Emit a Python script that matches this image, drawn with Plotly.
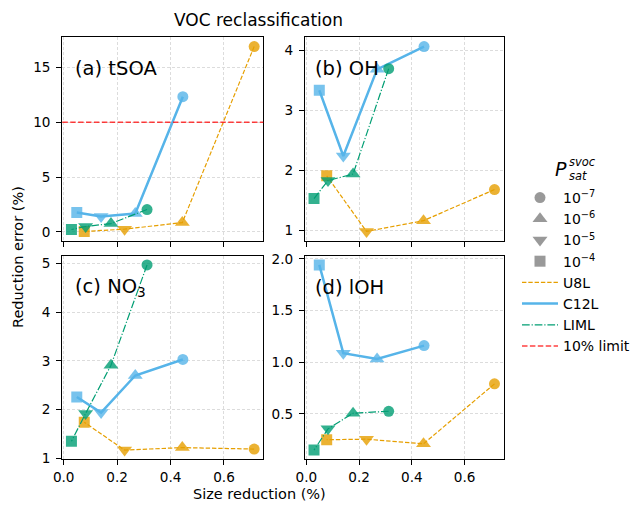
import plotly.graph_objects as go

W, H = 636, 505
FONT = "DejaVu Sans"

# Saturation vapour pressure classes, in plotting order
psat_labels = ["10<sup>−7</sup>", "10<sup>−6</sup>", "10<sup>−5</sup>", "10<sup>−4</sup>"]
psat_symbols = ["circle", "triangle-up", "triangle-down", "square"]
psat_sizes = [11, 13, 13, 11]

# Size reduction (fraction) per mechanism, one value per P_sat class
size_u8l = [0.713, 0.444, 0.228, 0.077]
size_c12l = [0.446, 0.268, 0.140, 0.049]
size_liml = [0.312, 0.177, 0.082, 0.029]

# Reduction error (%) per panel and mechanism
tsoa_u8l = [16.9, 0.85, 0.25, 0.04]
tsoa_c12l = [12.33, 1.67, 1.40, 1.76]
tsoa_liml = [2.04, 0.76, 0.49, 0.22]

oh_u8l = [1.68, 1.16, 0.98, 1.91]
oh_c12l = [4.07, 3.69, 2.24, 3.34]
oh_liml = [3.70, 1.94, 1.83, 1.53]

no3_u8l = [1.19, 1.22, 1.17, 1.74]
no3_c12l = [3.03, 2.70, 1.94, 2.26]
no3_liml = [4.97, 2.91, 1.92, 1.35]

loh_u8l = [0.79, 0.21, 0.255, 0.25]
loh_c12l = [1.16, 1.03, 1.087, 1.94]
loh_liml = [0.525, 0.506, 0.355, 0.15]

limit_pct = 10

panel_titles = ["(a) tSOA", "(b) OH", "(c) NO<sub>3</sub>", "(d) lOH"]
x_ticks = [0.0, 0.2, 0.4, 0.6]
y_ticks = [[0, 5, 10, 15], [1, 2, 3, 4], [1, 2, 3, 4, 5], [0.5, 1.0, 1.5, 2.0]]

mechs = ["U8L", "C12L", "LIML"]
colors = {"U8L": "#E69F00", "C12L": "#56B4E9", "LIML": "#009E73"}
line_styles = {
    "U8L": dict(width=1.2, dash="4.4px,1.9px"),
    "C12L": dict(width=2.5, dash="solid"),
    "LIML": dict(width=1.2, dash="7.7px,1.9px,1.2px,1.9px"),
}
sizes = {"U8L": size_u8l, "C12L": size_c12l, "LIML": size_liml}
panels = [
    {"U8L": tsoa_u8l, "C12L": tsoa_c12l, "LIML": tsoa_liml},
    {"U8L": oh_u8l, "C12L": oh_c12l, "LIML": oh_liml},
    {"U8L": no3_u8l, "C12L": no3_c12l, "LIML": no3_liml},
    {"U8L": loh_u8l, "C12L": loh_c12l, "LIML": loh_liml},
]


def px_x(p):
    return p / W


def px_y(p):
    return 1 - p / H


# panel boxes in pixels: (left, right, top, bottom)
boxes = [
    (62.3, 263.3, 37.3, 240.7),
    (305.0, 503.5, 37.3, 240.7),
    (62.3, 263.3, 255.7, 459.3),
    (305.0, 503.5, 255.7, 459.3),
]


def padded(vals, frac=0.05):
    lo, hi = min(vals), max(vals)
    span = hi - lo
    return [lo - frac * span, hi + frac * span]


all_sizes = size_u8l + size_c12l + size_liml
x_range = padded(all_sizes)

fig = go.Figure()

for i, data in enumerate(panels):
    xa = "x" if i == 0 else f"x{i + 1}"
    ya = "y" if i == 0 else f"y{i + 1}"
    for m in mechs:
        fig.add_trace(go.Scatter(
            x=sizes[m], y=data[m], xaxis=xa, yaxis=ya,
            mode="lines+markers", showlegend=False,
            line=dict(color=colors[m], **line_styles[m]),
            marker=dict(symbol=psat_symbols, size=psat_sizes, color=colors[m],
                        opacity=0.8, line=dict(width=0)),
            hoverinfo="skip",
        ))

# legend entries: P_sat marker shapes
for k, (lab, sym, sz) in enumerate(zip(psat_labels, psat_symbols, psat_sizes)):
    fig.add_trace(go.Scatter(
        x=[None], y=[None], mode="markers", name=lab, legendrank=k + 1,
        marker=dict(symbol=sym, size=sz, color="gray", opacity=0.8, line=dict(width=0)),
    ))
# legend entries: mechanisms
for k, m in enumerate(mechs):
    fig.add_trace(go.Scatter(
        x=[None], y=[None], mode="lines", name=m, legendrank=10 + k,
        line=dict(color=colors[m], **line_styles[m]),
    ))

# 10% limit in panel (a)
fig.add_shape(
    type="line", xref="x domain", x0=0, x1=1, yref="y", y0=limit_pct, y1=limit_pct,
    line=dict(color="rgba(255,0,0,0.75)", width=1.4, dash="5.5px,2.4px"),
    showlegend=True, name="10% limit", legendrank=20, layer="above",
)

axis_common = dict(
    showline=True, linecolor="black", linewidth=1.1, mirror=True,
    ticks="outside", ticklen=5, tickwidth=1.1, tickcolor="black",
    showgrid=True, gridcolor="#dcdcdc", gridwidth=0.8, griddash="3px,2px",
    zeroline=False, automargin=False,
    tickfont=dict(family=FONT, size=13.6, color="black"),
)

layout = dict(
    width=W, height=H, autosize=False,
    margin=dict(l=0, r=0, t=0, b=0, pad=0, autoexpand=False),
    paper_bgcolor="white", plot_bgcolor="white",
    font=dict(family=FONT, color="black"),
    showlegend=True,
    legend=dict(
        x=px_x(517), xanchor="left", y=px_y(182), yanchor="top",
        font=dict(family=FONT, size=14, color="black"),
        bgcolor="rgba(0,0,0,0)", tracegroupgap=0, itemwidth=36,
    ),
)

for i, (l, r, t, b) in enumerate(boxes):
    xkey = "xaxis" if i == 0 else f"xaxis{i + 1}"
    ykey = "yaxis" if i == 0 else f"yaxis{i + 1}"
    ya = "y" if i == 0 else f"y{i + 1}"
    xa = "x" if i == 0 else f"x{i + 1}"
    vals = [v for m in mechs for v in panels[i][m]]
    layout[xkey] = dict(
        axis_common, domain=[px_x(l), px_x(r)], range=x_range, anchor=ya,
        tickvals=x_ticks, tickformat=".1f", showticklabels=(i >= 2),
    )
    ydict = dict(
        axis_common, domain=[px_y(b), px_y(t)], range=padded(vals), anchor=xa,
        tickvals=y_ticks[i], ticklabelstandoff=3,
    )
    if i == 3:
        ydict["tickformat"] = ".1f"
    layout[ykey] = ydict

fig.update_layout(**layout)

annotations = []
label_pos = [(72.7, 68), (313.3, 68), (73.3, 287), (313.3, 287)]
for txt, (lx, ly) in zip(panel_titles, label_pos):
    annotations.append(dict(
        text=txt, x=px_x(lx), y=px_y(ly), xref="paper", yref="paper",
        xanchor="left", yanchor="middle", showarrow=False,
        font=dict(family=FONT, size=19.5, color="black"),
    ))

annotations += [
    dict(text="VOC reclassification", x=px_x(258), y=px_y(20), xref="paper", yref="paper",
         xanchor="center", yanchor="middle", showarrow=False,
         font=dict(family=FONT, size=17, color="black")),
    dict(text="Size reduction (%)", x=px_x(259), y=px_y(494), xref="paper", yref="paper",
         xanchor="center", yanchor="middle", showarrow=False,
         font=dict(family=FONT, size=14.5, color="black")),
    dict(text="Reduction error (%)", x=px_x(18), y=px_y(257), xref="paper", yref="paper",
         xanchor="center", yanchor="middle", showarrow=False, textangle=-90,
         font=dict(family=FONT, size=14.5, color="black")),
    # legend heading: P with stacked super/subscript
    dict(text="<i>P</i>", x=px_x(561), y=px_y(169), xref="paper", yref="paper",
         xanchor="center", yanchor="middle", showarrow=False,
         font=dict(family=FONT, size=19, color="black")),
    dict(text="<i>svoc</i>", x=px_x(567), y=px_y(162), xref="paper", yref="paper",
         xanchor="left", yanchor="middle", showarrow=False,
         font=dict(family=FONT, size=11.5, color="black")),
    dict(text="<i>sat</i>", x=px_x(567), y=px_y(176), xref="paper", yref="paper",
         xanchor="left", yanchor="middle", showarrow=False,
         font=dict(family=FONT, size=11.5, color="black")),
]
fig.update_layout(annotations=annotations)

fig.write_html("out.html")
